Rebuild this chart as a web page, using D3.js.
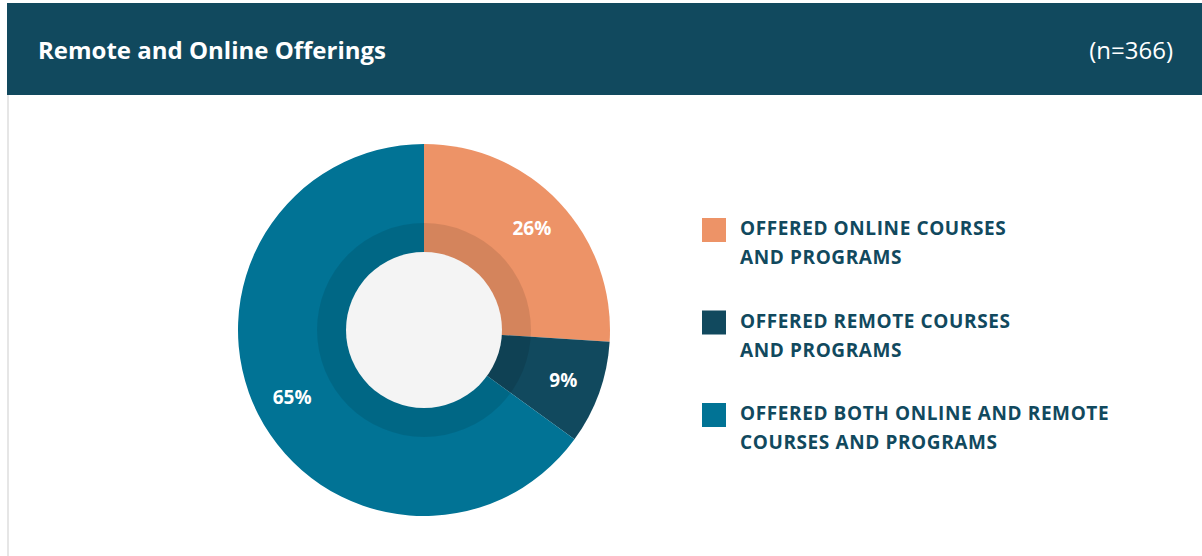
<!DOCTYPE html>
<html>
<head>
<meta charset="utf-8">
<script src="https://cdn.jsdelivr.net/npm/d3@7"></script>
<style>
  html, body { margin: 0; padding: 0; background: #fff; }
  svg { display: block; font-family: "Open Sans", "Noto Sans", sans-serif; }
</style>
</head>
<body>
<svg id="chart" width="1202" height="556"></svg>
<script>
// data
var categories = ["online", "remote", "both"];
var shares = [26, 9, 65];
var legendLines = [
  ["OFFERED ONLINE COURSES", "AND PROGRAMS"],
  ["OFFERED REMOTE COURSES", "AND PROGRAMS"],
  ["OFFERED BOTH ONLINE AND REMOTE", "COURSES AND PROGRAMS"]
];
var colors = ["#ED9367", "#11495E", "#017395"];
var title = "Remote and Online Offerings";
var sampleNote = "(n=366)";

var svg = d3.select("#chart");
var W = 1202, H = 556;

svg.append("rect").attr("width", W).attr("height", H).attr("fill", "#fff");

// header band
svg.append("rect")
  .attr("x", 7).attr("y", 3)
  .attr("width", W - 7).attr("height", 92)
  .attr("fill", "#11495E");
// thin left border of the card
svg.append("rect")
  .attr("x", 7).attr("y", 95)
  .attr("width", 2).attr("height", H - 95)
  .attr("fill", "#e6e6e6");

svg.append("text")
  .attr("x", 38).attr("y", 59)
  .attr("fill", "#fff")
  .attr("font-size", 24).attr("font-weight", 700)
  .text(title);
svg.append("text")
  .attr("x", 1173).attr("y", 59)
  .attr("text-anchor", "end")
  .attr("fill", "#fff")
  .attr("font-size", 24).attr("font-weight", 400)
  .text(sampleNote);

// donut
var cx = 424, cy = 330;
var rOuter = 186, rRing = 107, rHole = 78;

var pie = d3.pie().sort(null).value(function(d) { return d; });
var arcs = pie(shares);
var arc = d3.arc().innerRadius(0).outerRadius(rOuter);
var labelArc = d3.arc().innerRadius(148).outerRadius(148);

var g = svg.append("g").attr("transform", "translate(" + cx + "," + cy + ")");

g.selectAll("path.slice")
  .data(arcs)
  .enter().append("path")
  .attr("class", "slice")
  .attr("d", arc)
  .attr("fill", function(d, i) { return colors[i]; });

// darker inner ring
g.append("circle").attr("r", rRing).attr("fill", "#000").attr("fill-opacity", 0.1);
g.append("circle").attr("r", rHole).attr("fill", "#F4F4F4");

g.selectAll("text.pct")
  .data(arcs)
  .enter().append("text")
  .attr("class", "pct")
  .attr("transform", function(d) { return "translate(" + labelArc.centroid(d) + ")"; })
  .attr("text-anchor", "middle")
  .attr("dy", "0.35em")
  .attr("fill", "#fff")
  .attr("font-size", 19).attr("font-weight", 700)
  .text(function(d) { return d.data + "%"; });

// legend
var legendY = d3.scalePoint().domain(categories).range([218, 403]);

var item = svg.selectAll("g.legend")
  .data(categories)
  .enter().append("g")
  .attr("class", "legend")
  .attr("transform", function(d) { return "translate(702," + legendY(d) + ")"; });

item.append("rect")
  .attr("width", 24).attr("height", 24)
  .attr("fill", function(d, i) { return colors[i]; });

item.each(function(d, i) {
  var t = d3.select(this).append("text")
    .attr("x", 38).attr("y", 17)
    .attr("fill", "#11495E")
    .attr("font-size", 19).attr("font-weight", 700)
    .attr("letter-spacing", 0.6);
  legendLines[i].forEach(function(line, j) {
    t.append("tspan").attr("x", 38).attr("dy", j === 0 ? 0 : 29).text(line);
  });
});
</script>
</body>
</html>
